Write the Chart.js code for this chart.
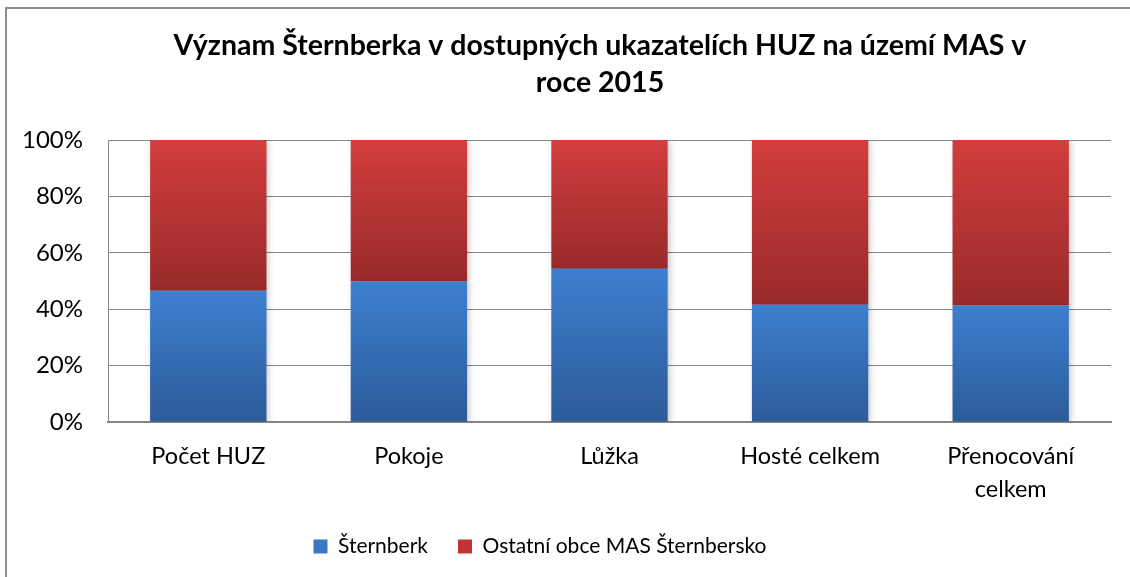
<!DOCTYPE html>
<html>
<head>
<meta charset="utf-8">
<script src="https://cdn.jsdelivr.net/npm/chart.js@4.4.1/dist/chart.umd.min.js"></script>
<style>
  html, body { margin: 0; padding: 0; background: #fff; }
  #wrap { width: 1130px; height: 577px; }
</style>
</head>
<body>
<div id="wrap"><canvas id="chart" width="1130" height="577"></canvas></div>
<script>
// values (share in %)
const categories = ['Počet HUZ', 'Pokoje', 'Lůžka', 'Hosté celkem', ['Přenocování', 'celkem']];
const sternberk = [46.6, 49.8, 54.4, 41.6, 41.3];
const ostatni = [53.4, 50.2, 45.6, 58.4, 58.7];
const yTicks = [0, 20, 40, 60, 80, 100];

const FONT = 'Lato, "Open Sans", sans-serif';

function q(sel){ return document.querySelector(sel); }

// vertical gradient for one stacked segment
function segGradient(ctx, top, bottom) {
  const chart = ctx.chart;
  const i = ctx.dataIndex;
  const y = chart.scales.y;
  if (i === undefined || !y) return top;
  let lo = 0, hi = 0;
  if (ctx.datasetIndex === 0) { lo = 0; hi = sternberk[i]; }
  else { lo = sternberk[i]; hi = sternberk[i] + ostatni[i]; }
  const y0 = y.getPixelForValue(hi), y1 = y.getPixelForValue(lo);
  if (!isFinite(y0) || !isFinite(y1) || y0 === y1) return top;
  const g = chart.ctx.createLinearGradient(0, y0, 0, y1);
  g.addColorStop(0, top);
  g.addColorStop(1, bottom);
  return g;
}

const frame = {
  id: 'frame',
  beforeDraw(chart) {
    const c = chart.ctx;
    c.save();
    c.fillStyle = '#fff';
    c.fillRect(0, 0, chart.width, chart.height);
    c.strokeStyle = '#8c8c8c';
    c.lineWidth = 2;
    c.beginPath();
    c.moveTo(6, chart.height + 5);
    c.lineTo(6, 8);
    c.lineTo(chart.width + 5, 8);
    c.stroke();
    c.restore();
  }
};

// title and legend are centred differently from the plot in the original
const recentre = {
  id: 'recentre',
  afterLayout(chart) {
    if (chart.titleBlock) { chart.titleBlock.left = 70; chart.titleBlock.right = 1130; }
    if (chart.legend) { chart.legend.left = 0; chart.legend.right = 1080; }
  }
};

const shadow = {
  id: 'shadow',
  beforeDatasetsDraw(chart) {
    const c = chart.ctx;
    c.save();
    c.shadowColor = 'rgba(0,0,0,0.22)';
    c.shadowBlur = 6;
    c.shadowOffsetX = 2;
    c.shadowOffsetY = 1;
  },
  afterDatasetsDraw(chart) { chart.ctx.restore(); }
};

new Chart(q('#chart').getContext('2d'), {
  type: 'bar',
  data: {
    labels: categories,
    datasets: [
      { label: 'Šternberk', data: sternberk,
        backgroundColor: (ctx) => segGradient(ctx, '#3d7fd0', '#2c5b98') },
      { label: 'Ostatní obce MAS Šternbersko', data: ostatni,
        backgroundColor: (ctx) => segGradient(ctx, '#d23d3d', '#992a2a') },
    ]
  },
  options: {
    responsive: false,
    animation: false,
    layout: { padding: { left: 0, right: 19, top: 0, bottom: 10 } },
    datasets: { bar: { barPercentage: 0.58, categoryPercentage: 1 } },
    plugins: {
      title: {
        display: true,
        text: ['Význam Šternberka v dostupných ukazatelích HUZ na území MAS v', 'roce 2015'],
        color: '#000',
        font: { family: FONT, size: 28.5, weight: 'bold', lineHeight: 1.3 },
        padding: { top: 27, bottom: 39 },
      },
      legend: {
        position: 'bottom',
        labels: {
          color: '#000',
          font: { family: FONT, size: 21 },
          boxWidth: 14, boxHeight: 14, padding: 30,
          generateLabels: (chart) => chart.data.datasets.map((d, i) => ({
            text: d.label, datasetIndex: i,
            fillStyle: i === 0 ? '#3a77c4' : '#c13535',
            strokeStyle: 'rgba(0,0,0,0)', lineWidth: 0,
          })),
        },
      },
      tooltip: { enabled: false },
    },
    scales: {
      x: {
        stacked: true,
        grid: { display: false },
        border: { display: true, color: '#868686', width: 2 },
        ticks: { color: '#000', font: { family: FONT, size: 23.5, lineHeight: 1.4 }, padding: 10, maxRotation: 0 },
        afterFit: (s) => { s.height = 84; },
      },
      y: {
        stacked: true,
        min: 0, max: 100,
        afterBuildTicks: (s) => { s.ticks = yTicks.map(v => ({ value: v })); },
        grid: { color: '#868686', lineWidth: 1, drawTicks: false },
        border: { display: true, color: '#868686', width: 1 },
        ticks: { color: '#000', font: { family: FONT, size: 24 }, padding: 25, callback: (v) => v + '%' },
        afterFit: (s) => { s.width = 108; },
      },
    },
  },
  plugins: [frame, recentre, shadow],
});
</script>
</body>
</html>
